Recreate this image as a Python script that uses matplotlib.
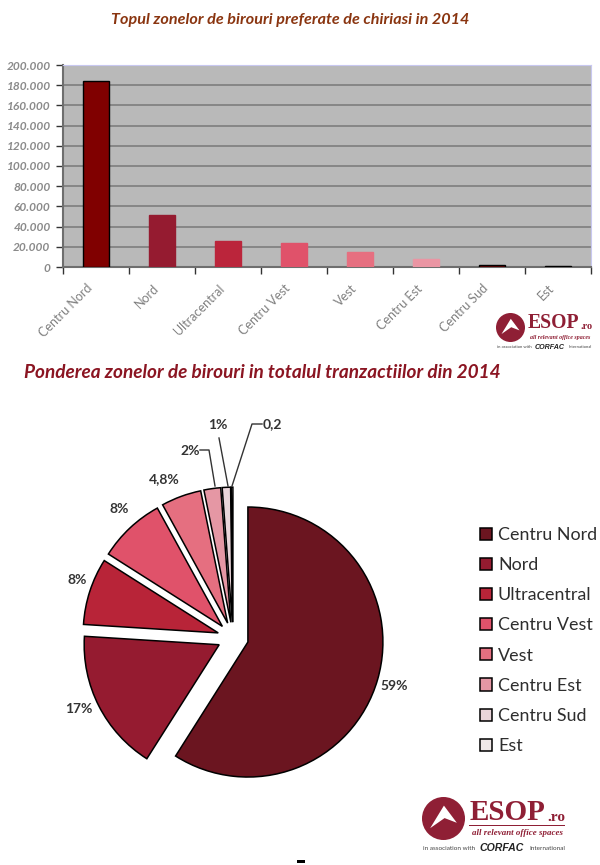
#!/usr/bin/env python3
# -*- coding: utf-8 -*-
import matplotlib
matplotlib.use('Agg')
import matplotlib.pyplot as plt
from matplotlib.patches import Circle, Polygon, Rectangle
from matplotlib.ticker import FuncFormatter

plt.rcParams['font.family'] = ['Lato', 'DejaVu Sans']

W, H = 600, 865

zones = ['Centru Nord', 'Nord', 'Ultracentral', 'Centru Vest', 'Vest', 'Centru Est', 'Centru Sud', 'Est']

# surface per zone
bar_values = [184000, 51500, 26000, 24000, 14500, 7500, 2000, 1000]
bar_colors = ['#800000', '#951b30', '#bb253b', '#e0526a', '#e66f80', '#ea95a3', '#800000', '#500000']
bar_edges = ['black', '#951b30', '#bb253b', '#e0526a', '#e66f80', '#ea95a3', 'black', 'black']
y_ticks = [0, 20000, 40000, 60000, 80000, 100000, 120000, 140000, 160000, 180000, 200000]

# share per zone
pie_values = [59, 17, 8, 8, 4.8, 2, 1, 0.2]
pie_labels = ['59%', '17%', '8%', '8%', '4,8%', '2%', '1%', '0,2']
pie_colors = ['#6b1520', '#951b30', '#b82438', '#e0526a', '#e56f80', '#e597a4', '#ead5da', '#f0e8e8']

title_top = 'Topul zonelor de birouri preferate de chiriasi in 2014'
title_pie = 'Ponderea zonelor de birouri in totalul tranzactiilor din 2014'


def px_axes(fig, left, top, right, bottom):
    return fig.add_axes([left / W, 1 - bottom / H, (right - left) / W, (bottom - top) / H])


def draw_logo(ax, cx, cy, r):
    # r is the circle radius, everything else scales from it
    red = '#8f1f35'
    ax.add_patch(Circle((cx, cy), r, fc=red, ec='none'))
    ax.add_patch(Polygon([(cx - 0.62 * r, cy + 0.45 * r), (cx + 0.02 * r, cy - 0.6 * r), (cx + 0.62 * r, cy + 0.2 * r),
                          (cx + 0.05 * r, cy - 0.02 * r)], fc='white', ec='none'))
    s = r / 21.5
    x0 = cx + 1.19 * r
    ax.text(x0, cy - 6 * s, 'ESOP', family='Liberation Serif', fontweight='bold', fontsize=21 * s, color=red, va='center', ha='left')
    ax.text(cx + 5.65 * r, cy - 1 * s, '.ro', family='Liberation Serif', fontweight='bold', fontsize=11 * s, color=red, va='center', ha='right')
    ax.add_patch(Rectangle((x0, cy + 6 * s), 4.46 * r, 1.2 * s, fc=red, ec='none'))
    ax.text(x0 + 2.23 * r, cy + 14.5 * s, 'all relevant office spaces', family='Liberation Serif', fontstyle='italic', fontweight='bold',
            fontsize=6.4 * s, color=red, va='center', ha='center')
    ax.text(cx - 0.95 * r, cy + 29.5 * s, 'in association with', fontsize=4.6 * s, color='#444444', va='center', ha='left')
    ax.text(cx + 2.72 * r, cy + 29.5 * s, 'CORFAC', family='Liberation Sans', fontweight='bold', fontstyle='italic', fontsize=7.6 * s,
            color='#222222', va='center', ha='center')
    ax.text(cx + 5.65 * r, cy + 29.5 * s, 'International', fontsize=4.6 * s, color='#444444', va='center', ha='right')


fig = plt.figure(figsize=(W / 100, H / 100), dpi=100, facecolor='white')

# bars
ax1 = px_axes(fig, 63, 65, 591, 267)
ax1.set_facecolor('#b9b9b9')
xs = range(len(zones))
ax1.bar(xs, bar_values, width=0.4, color=bar_colors, edgecolor=bar_edges, linewidth=1, zorder=3)
ax1.set_xlim(-0.5, len(zones) - 0.5)
ax1.set_ylim(0, 200000)
ax1.set_yticks(y_ticks)
ax1.yaxis.set_major_formatter(FuncFormatter(lambda v, p: f'{int(v):,}'.replace(',', '.')))
ax1.set_xticks([i - 0.5 for i in range(len(zones) + 1)])
ax1.set_xticklabels([])
ax1.grid(axis='y', color='#7d7d7d', lw=1.2, zorder=1)
ax1.tick_params(axis='y', length=5, width=1, color='#333333', labelsize=8.6, labelcolor='#8a8a8a', pad=4)
ax1.tick_params(axis='x', length=5, width=1, color='#333333')
for lab in ax1.get_yticklabels():
    lab.set_fontstyle('italic')
    lab.set_fontweight('bold')
ax1.spines['left'].set_color('#6e6e6e')
ax1.spines['left'].set_linewidth(1.5)
ax1.spines['bottom'].set_color('#6e6e6e')
ax1.spines['bottom'].set_linewidth(1.5)
ax1.spines['top'].set_color('#c8c8f0')
ax1.spines['right'].set_color('#c8c8f0')
for i, name in enumerate(zones):
    ax1.annotate(name, (i, 0), xycoords=('data', 'axes fraction'), xytext=(-4, -14), textcoords='offset points',
                 rotation=45, rotation_mode='anchor', ha='right', va='center', fontsize=9, color='#808080')

# pie, exploded like the original
ax2 = px_axes(fig, 233 - 175.5, 637.7 - 175.5, 233 + 175.5, 637.7 + 175.5)
wedges, _ = ax2.pie(pie_values, startangle=90, counterclock=False, colors=pie_colors, explode=[0.115] * len(pie_values),
                    radius=1, wedgeprops={'edgecolor': 'black', 'linewidth': 1.1})
ax2.set_xlim(-1.3, 1.3)
ax2.set_ylim(-1.3, 1.3)

leg = ax2.legend(wedges, zones, loc='upper left', bbox_to_anchor=(480 / W, 1 - 527 / H), bbox_transform=fig.transFigure,
                 frameon=False, fontsize=12.9, labelcolor='#2e2e2e', handlelength=0.67, handleheight=0.67, handletextpad=0.33,
                 labelspacing=0.79, borderpad=0, borderaxespad=0)

# pixel overlay for titles, slice labels and logos
ov = fig.add_axes([0, 0, 1, 1], facecolor='none')
ov.set_xlim(0, W)
ov.set_ylim(H, 0)
ov.axis('off')
ov.text(290.5, 20, title_top, ha='center', va='center', fontsize=11.6, fontweight='bold', fontstyle='italic', color='#8a3510')
ov.text(262.5, 373, title_pie, ha='center', va='center', fontsize=13.7, fontweight='bold', fontstyle='italic', color='#8b1522')

label_xy = [(394, 686), (79, 709), (77, 580), (119, 509), (164, 479), (190, 451), (218, 425), (272, 424)]
for t, (lx, ly) in zip(pie_labels, label_xy):
    ov.text(lx, ly, t, ha='center', va='center', fontsize=10, fontweight='bold', color='#333333')

# leader lines for the three thin slices
ov.plot([200, 209, 215], [450, 450, 486], color='#333333', lw=1)
ov.plot([219, 228], [438, 486], color='#333333', lw=1)
ov.plot([262, 252, 232], [424, 424, 486], color='#333333', lw=1)

draw_logo(ov, 510.5, 327.5, 14.5)
draw_logo(ov, 443.5, 818.5, 21.5)

ov.add_patch(Rectangle((297, 860), 8, 2.5, fc='black', ec='none'))

fig.savefig('out.png', dpi=100)
